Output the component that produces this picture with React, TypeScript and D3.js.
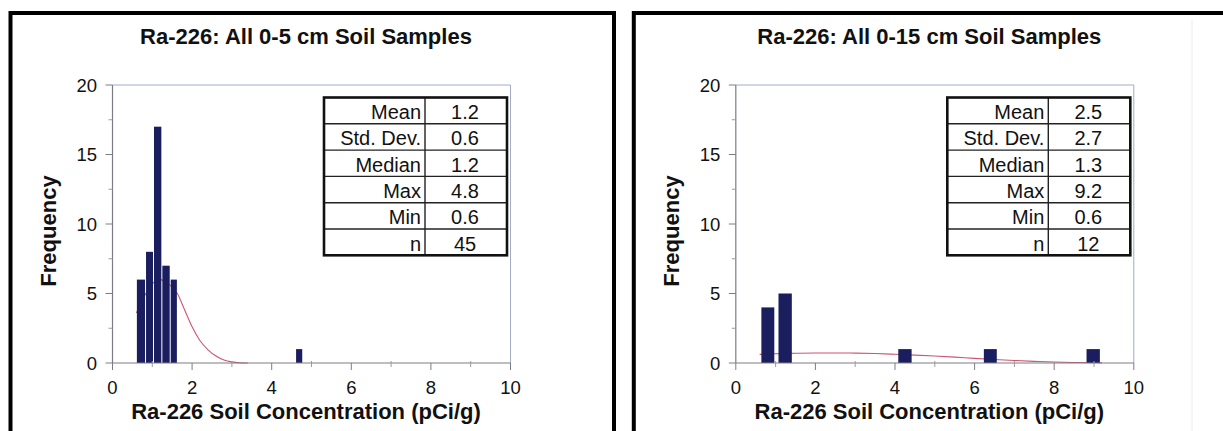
import React from 'react';
import * as d3 from 'd3';

// titles
const leftTitle = 'Ra-226: All 0-5 cm Soil Samples';
const rightTitle = 'Ra-226: All 0-15 cm Soil Samples';
const xTitle = 'Ra-226 Soil Concentration (pCi/g)';
const yTitle = 'Frequency';

// axis ticks
const xTicks = [0, 2, 4, 6, 8, 10];
const xMinorTicks = [1, 3, 5, 7, 9];
const yTicks = [0, 5, 10, 15, 20];
const yMinorTicks = [2.5, 7.5, 12.5, 17.5];

// 0-5 cm histogram
const leftBinStart = [0.6, 0.83, 1.03, 1.24, 1.45, 4.6];
const leftBinEnd = [0.83, 1.03, 1.24, 1.45, 1.63, 4.78];
const leftCounts = [6, 8, 17, 7, 6, 1];
const leftCurveX = [0.6, 0.8, 1.0, 1.2, 1.4, 1.63, 1.8, 2.0, 2.2, 2.4, 2.6, 2.8, 3.0, 3.2, 3.4];
const leftCurveY = [3.6, 4.8, 5.7, 6.0, 5.7, 5.0, 3.9, 2.6, 1.6, 0.95, 0.5, 0.22, 0.08, 0.02, 0.0];

// 0-15 cm histogram
const rightBinStart = [0.63, 1.06, 4.07, 6.22, 8.8];
const rightBinEnd = [0.98, 1.42, 4.43, 6.57, 9.16];
const rightCounts = [4, 5, 1, 1, 1];
const rightCurveX = [0.6, 1.0, 1.5, 2.0, 2.5, 3.0, 3.5, 4.0, 4.5, 5.0, 5.5, 6.0, 6.5, 7.0, 7.5, 8.0, 8.5, 9.0, 9.2];
const rightCurveY = [0.62, 0.67, 0.7, 0.72, 0.72, 0.71, 0.68, 0.63, 0.57, 0.5, 0.42, 0.33, 0.25, 0.18, 0.12, 0.07, 0.04, 0.02, 0.01];

// summary tables
const statLabels = ['Mean', 'Std. Dev.', 'Median', 'Max', 'Min', 'n'];
const leftStats = ['1.2', '0.6', '1.2', '4.8', '0.6', '45'];
const rightStats = ['2.5', '2.7', '1.3', '9.2', '0.6', '12'];

const font = 'Liberation Sans, Arial, sans-serif';
const barColor = '#1b1e5e';

type PanelProps = {
  offsetX: number;
  title: string;
  binStart: number[];
  binEnd: number[];
  counts: number[];
  curveX: number[];
  curveY: number[];
  stats: string[];
};

function Panel({ offsetX, title, binStart, binEnd, counts, curveX, curveY, stats }: PanelProps) {
  const x = d3.scaleLinear().domain([0, 10]).range([112.5, 510.5]);
  const y = d3.scaleLinear().domain([0, 20]).range([363, 85]);
  const [x0, x1] = x.range();
  const [y0, y1] = y.range();

  const line = d3.line<number>()
    .x((d, i) => x(curveX[i]))
    .y(d => y(d))
    .curve(d3.curveMonotoneX);

  const tblLeft = 324, tblRight = 507, tblDiv = 425, tblTop = 97.5, rowH = 26.3;
  const tblBottom = tblTop + rowH * statLabels.length;

  return (
    <g transform={`translate(${offsetX},0)`} fontFamily={font}>
      {/* frame */}
      <rect x={10.5} y={13} width={603.5} height={500} fill="none" stroke="#000" strokeWidth={4} />

      <text x={306} y={44} textAnchor="middle" fontSize={22} fontWeight="bold" fill="#111">{title}</text>

      {/* plot area border */}
      <line x1={x0} x2={x1} y1={y1} y2={y1} stroke="#a4acc4" strokeWidth={1} />
      <line x1={x1} x2={x1} y1={y1} y2={y0} stroke="#a4acc4" strokeWidth={1} />

      {/* fitted curve, behind the bars */}
      <path d={line(curveY) || ''} fill="none" stroke="#cc5573" strokeWidth={1.1} />

      {counts.map((c, i) => (
        <rect key={i}
          x={x(binStart[i]) + 0.5}
          y={y(c)}
          width={x(binEnd[i]) - x(binStart[i]) - 1}
          height={y(0) - y(c)}
          fill={barColor} />
      ))}

      {/* axes */}
      <line x1={x0} x2={x0} y1={y1} y2={y0} stroke="#7c7c86" strokeWidth={1.2} />
      <line x1={x0} x2={x1} y1={y0} y2={y0} stroke="#7c7c86" strokeWidth={1.2} />
      {yTicks.map(t => (
        <g key={t}>
          <line x1={x0 - 7} x2={x0} y1={y(t)} y2={y(t)} stroke="#7c7c86" />
          <text x={97} y={y(t)} dy="0.36em" textAnchor="end" fontSize={18.5} fill="#111">{t}</text>
        </g>
      ))}
      {yMinorTicks.map(t => (
        <line key={t} x1={x0 - 4} x2={x0} y1={y(t)} y2={y(t)} stroke="#9a9aa4" />
      ))}
      {xTicks.map(t => (
        <g key={t}>
          <line x1={x(t)} x2={x(t)} y1={y0} y2={y0 + 7} stroke="#7c7c86" />
          <text x={x(t)} y={394} textAnchor="middle" fontSize={18.5} fill="#111">{t}</text>
        </g>
      ))}
      {xMinorTicks.map(t => (
        <line key={t} x1={x(t)} x2={x(t)} y1={y0 - 2} y2={y0 + 4} stroke="#9a9aa4" />
      ))}

      <text x={306} y={419} textAnchor="middle" fontSize={22} fontWeight="bold" fill="#111">{xTitle}</text>
      <text transform={`translate(56,${(y0 + y1) / 2 + 7}) rotate(-90)`} textAnchor="middle"
        fontSize={22} fontWeight="bold" fill="#111">{yTitle}</text>

      {/* stats table */}
      <rect x={tblLeft} y={tblTop} width={tblRight - tblLeft} height={tblBottom - tblTop} fill="#fff" />
      {statLabels.slice(1).map((_, i) => (
        <line key={i} x1={tblLeft} x2={tblRight} y1={tblTop + rowH * (i + 1)} y2={tblTop + rowH * (i + 1)}
          stroke="#222" strokeWidth={1.4} />
      ))}
      <line x1={tblDiv} x2={tblDiv} y1={tblTop} y2={tblBottom} stroke="#222" strokeWidth={1.4} />
      <rect x={tblLeft} y={tblTop} width={tblRight - tblLeft} height={tblBottom - tblTop}
        fill="none" stroke="#111" strokeWidth={2.6} />
      {statLabels.map((s, i) => (
        <g key={s}>
          <text x={tblDiv - 4} y={tblTop + rowH * i + 21.5} textAnchor="end" fontSize={20} fill="#111">{s}</text>
          <text x={(tblDiv + tblRight) / 2 - 1} y={tblTop + rowH * i + 21.5} textAnchor="middle" fontSize={20} fill="#111">{stats[i]}</text>
        </g>
      ))}
    </g>
  );
}

export default function App() {
  return (
    <svg width={1223} height={431} style={{ position: 'absolute', left: 0, top: 0, background: '#fff' }}>
      <rect width={1223} height={431} fill="#fff" />
      <Panel offsetX={0} title={leftTitle} binStart={leftBinStart} binEnd={leftBinEnd}
        counts={leftCounts} curveX={leftCurveX} curveY={leftCurveY} stats={leftStats} />
      <Panel offsetX={623.3} title={rightTitle} binStart={rightBinStart} binEnd={rightBinEnd}
        counts={rightCounts} curveX={rightCurveX} curveY={rightCurveY} stats={rightStats} />
      <line x1={1192} x2={1192} y1={20} y2={431} stroke="#e6eef2" strokeWidth={1} />
    </svg>
  );
}
